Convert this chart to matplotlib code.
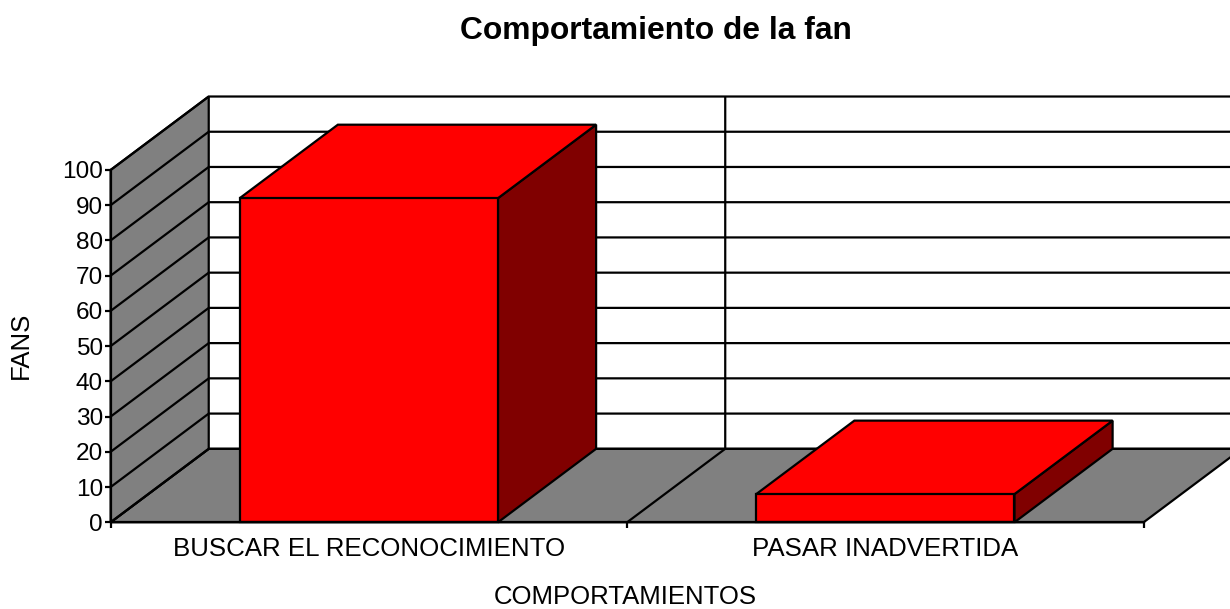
import matplotlib
matplotlib.use("Agg")
import matplotlib.pyplot as plt
from matplotlib.patches import Polygon

plt.rcParams['font.family'] = ['Liberation Sans', 'DejaVu Sans']

title = "Comportamiento de la fan"
categories = ["BUSCAR EL RECONOCIMIENTO", "PASAR INADVERTIDA"]
values = [92, 8]
y_ticks = list(range(0, 101, 10))
x_label = "COMPORTAMIENTOS"
y_label = "FANS"

W, H = 1230, 609
GREY, RED, DARK = "#808080", "#ff0000", "#800000"
LW = 1.6
DX, DY = 0.19, 20.86     # oblique depth, in category / value units
BAR_W = 0.5

fig = plt.figure(figsize=(W / 100, H / 100), dpi=100, facecolor="white")
ax = fig.add_axes([110.6 / W, (H - 522.3) / H, 1033 / W, 352.3 / H])
n = len(categories)
ax.set_xlim(0, n)
ax.set_ylim(0, y_ticks[-1])
ax.set_facecolor("none")


def poly(pts, fc, z):
    ax.add_patch(Polygon(pts, closed=True, facecolor=fc, edgecolor="black",
                         linewidth=LW, joinstyle="miter", clip_on=False, zorder=z))


def line(xs, ys, z=1.5):
    ax.plot(xs, ys, color="black", lw=LW, clip_on=False, zorder=z, solid_capstyle="butt")


top = y_ticks[-1]
# floor and left wall
poly([(0, 0), (n, 0), (n + DX, DY), (DX, DY)], GREY, 1)
poly([(0, 0), (DX, DY), (DX, top + DY), (0, top)], GREY, 1)
# gridlines on left wall and back wall
for t in y_ticks:
    line([0, DX, n + DX], [t, t + DY, t + DY])
# category separators on floor and back wall
for i in range(1, n):
    line([i, i + DX, i + DX], [0, DY, top + DY])

# bars
for i, v in enumerate(values):
    x0 = i + 0.5 - BAR_W / 2
    x1 = i + 0.5 + BAR_W / 2
    poly([(x1, 0), (x1 + DX, DY), (x1 + DX, v + DY), (x1, v)], DARK, 3)
    poly([(x0, v), (x1, v), (x1 + DX, v + DY), (x0 + DX, v + DY)], RED, 3)
    poly([(x0, 0), (x1, 0), (x1, v), (x0, v)], RED, 4)

# axes
for s in ("top", "right"):
    ax.spines[s].set_visible(False)
for s in ("left", "bottom"):
    ax.spines[s].set_linewidth(LW)
    ax.spines[s].set_zorder(5)
ax.set_yticks(y_ticks)
ax.set_xticks(range(n + 1))
ax.set_xticklabels([])
ax.set_xticks([i + 0.5 for i in range(n)], minor=True)
ax.set_xticklabels(categories, minor=True)
ax.tick_params(axis="x", which="major", length=4.5, width=LW)
ax.tick_params(axis="x", which="minor", length=0, pad=10.5, labelsize=18.6)
ax.tick_params(axis="y", length=4, width=LW, pad=1.5, labelsize=17.6)

fig.text(655.5 / W, 1 - 31 / H, title, ha="center", va="center",
         fontsize=22.9, fontweight="bold")
fig.text(625 / W, 1 - 604 / H, x_label, ha="center", va="baseline", fontsize=18.5)
fig.text(21 / W, 1 - 345 / H, y_label, ha="center", va="center",
         fontsize=18.5, rotation=90)

fig.savefig("out.png", dpi=100)
